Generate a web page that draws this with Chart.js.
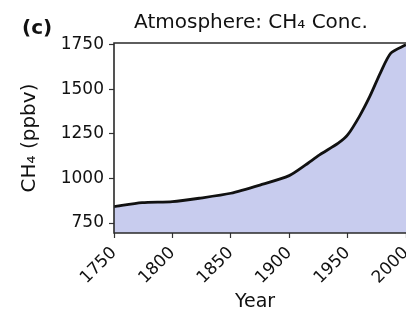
<!DOCTYPE html>
<html><head><meta charset="utf-8">
<script src="https://cdn.jsdelivr.net/npm/chart.js@4.4.0/dist/chart.umd.min.js"></script>
<style>html,body{margin:0;padding:0;background:#fff;overflow:hidden}canvas{display:block}</style>
</head><body>
<canvas id="c" width="406" height="317"></canvas>
<script>
const panelLabel = "(c)";
const chartTitle = "Atmosphere: CH\u2084 Conc.";
const xAxisLabel = "Year";
const yAxisLabel = "CH\u2084 (ppbv)";
const years = [1750, 1774, 1800, 1823, 1850, 1875, 1900, 1914, 1926, 1942, 1950, 1960, 1969, 1978, 1987, 2000];
const ch4   = [842,  864,  870,  889,  917,  963,  1016, 1076, 1132, 1198, 1244, 1347, 1460, 1591, 1703, 1750];
const xTicks = [1750, 1800, 1850, 1900, 1950, 2000];
const yTicks = [750, 1000, 1250, 1500, 1750];
const FONT = "DejaVu Sans";
const INK = "#111111";

const textPlugin = {
  id: 'texts',
  afterDraw(chart) {
    const ctx = chart.ctx, a = chart.chartArea;
    ctx.save();
    ctx.strokeStyle = '#2a2a2a'; ctx.lineWidth = 1.6;
    ctx.beginPath();
    ctx.moveTo(chart.width + 2, a.top); ctx.lineTo(a.left, a.top);
    ctx.lineTo(a.left, a.bottom); ctx.lineTo(chart.width + 2, a.bottom);
    ctx.stroke();
    ctx.fillStyle = INK;
    ctx.textBaseline = 'alphabetic';
    ctx.font = '20px "' + FONT + '"';
    ctx.textAlign = 'center';
    ctx.fillText(chartTitle, 251, 28);
    ctx.font = 'bold 20px "' + FONT + '"';
    ctx.textAlign = 'left';
    ctx.fillText(panelLabel, 22, 34);
    ctx.font = '19px "' + FONT + '"';
    ctx.textAlign = 'center';
    ctx.fillText(xAxisLabel, 255, 307);
    ctx.restore();
  }
};

new Chart(document.getElementById('c'), {
  type: 'line',
  data: {
    datasets: [{
      data: years.map((y, i) => ({x: y, y: ch4[i]})),
      borderColor: INK,
      borderWidth: 2.8,
      backgroundColor: 'rgb(200,204,238)',
      fill: 'start',
      pointRadius: 0,
      tension: 0.25
    }]
  },
  options: {
    responsive: false,
    animation: false,
    events: [],
    layout: {padding: {top: 43, left: 0, right: 0, bottom: 0}},
    plugins: {legend: {display: false}, tooltip: {enabled: false}, title: {display: false}},
    scales: {
      x: {
        type: 'linear', min: 1750, max: 2000,
        afterBuildTicks: s => { s.ticks = xTicks.map(v => ({value: v})); },
        afterFit: s => { s.height = 84; s.paddingLeft = 0; s.paddingRight = 0; },
        grid: {display: true, drawOnChartArea: false, drawTicks: true, tickLength: 5, color: '#333', tickWidth: 1.2},
        border: {display: false},
        ticks: {minRotation: 45, maxRotation: 45, padding: 5, color: INK, font: {family: FONT, size: 17},
                callback: v => String(v)}
      },
      y: {
        min: 694, max: 1760,
        afterBuildTicks: s => { s.ticks = yTicks.map(v => ({value: v})); },
        afterFit: s => { s.width = 114; },
        grid: {display: true, drawOnChartArea: false, drawTicks: true, tickLength: 5, color: '#333', tickWidth: 1.2},
        border: {display: false},
        ticks: {padding: 5, color: INK, font: {family: FONT, size: 17}, callback: v => String(v)},
        title: {display: true, text: yAxisLabel, color: INK, font: {family: FONT, size: 20}, padding: {top: 18, bottom: 0}}
      }
    }
  },
  plugins: [textPlugin]
});
</script>
</body></html>
